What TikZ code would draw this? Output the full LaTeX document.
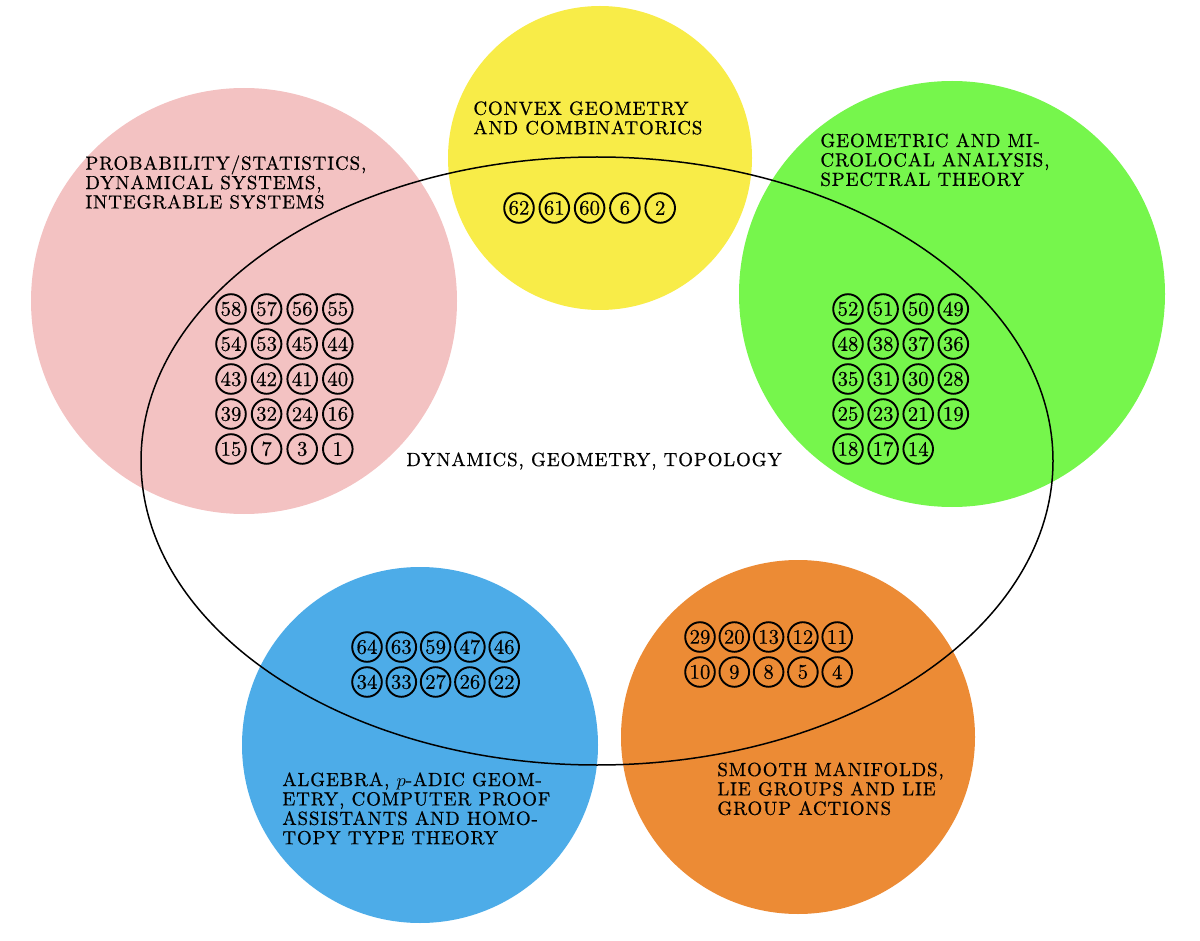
\documentclass[tikz,border=0pt]{standalone}
\usepackage{fontspec}
\usetikzlibrary{shapes.geometric}
\newfontfamily\lblfont{lmroman10-regular.otf}[LetterSpace=4.5,FakeBold=0.6]
\newfontfamily\numfont{lmroman10-regular.otf}[FakeBold=0.4]
\definecolor{cpink}{RGB}{243,194,194}
\definecolor{cyellow}{RGB}{248,236,72}
\definecolor{cgreen}{RGB}{118,246,76}
\definecolor{cblue}{RGB}{77,172,232}
\definecolor{corange}{RGB}{236,139,53}
\tikzset{
  numc/.style={circle,draw=black,line width=0.95pt,minimum size=14.8pt,inner sep=0pt,font=\numfont\fontsize{10.4}{11}\selectfont},
  lbl/.style={inner sep=0pt,anchor=north west,align=left,font=\lblfont\fontsize{9.5}{9.7}\selectfont},
  bigell/.style={draw=black,line width=0.75pt}
}
\newcommand{\numgrid}[5]{%
  \foreach \v [count=\i from 0] in {#5} {%
    \pgfmathsetmacro{\cc}{mod(\i,#3)}%
    \pgfmathsetmacro{\rr}{floor(\i/#3)}%
    \node[numc] (n\v) at ({#1+\cc*#4},{#2+\rr*35}) {\v};
  }%
}
\begin{document}
\begin{tikzpicture}[x=0.5pt,y=-0.5pt]
\useasboundingbox (0,0) rectangle (1200,941);
% coloured discs
\fill[cpink]   (244,301) circle[radius=106.5pt];
\fill[cyellow] (600,158) circle[radius=76pt];
\fill[cgreen]  (952,294) circle[radius=106.5pt];
\fill[cblue]   (420,745) circle[radius=89pt];
\fill[corange] (798,737) circle[radius=88.5pt];
% big ellipse
\node[bigell,ellipse,minimum width=456pt,minimum height=304pt,inner sep=0pt] (ell) at (597,461) {};
% labels
\node[lbl] (lprob) at (85,155) {PROBABILITY/STATISTICS,\\DYNAMICAL SYSTEMS,\\INTEGRABLE SYSTEMS};
\node[lbl] (lconv) at (473,101) {CONVEX GEOMETRY\\AND COMBINATORICS};
\node[lbl] (lgeom) at (820,133) {GEOMETRIC AND MI-\\CROLOCAL ANALYSIS,\\SPECTRAL THEORY};
\node[lbl] (lalg) at (282,772) {ALGEBRA, $p$-ADIC GEOM-\\ETRY, COMPUTER PROOF\\ASSISTANTS AND HOMO-\\TOPY TYPE THEORY};
\node[lbl] (lsmooth) at (717,762) {SMOOTH MANIFOLDS,\\LIE GROUPS AND LIE\\GROUP ACTIONS};
\node[lbl] (ldyn) at (406,452) {DYNAMICS, GEOMETRY, TOPOLOGY};
% number grids
\numgrid{231}{309}{4}{35.6}{58,57,56,55,54,53,45,44,43,42,41,40,39,32,24,16,15,7,3,1}
\numgrid{848}{309}{4}{35.1}{52,51,50,49,48,38,37,36,35,31,30,28,25,23,21,19,18,17,14}
\numgrid{519}{208}{5}{35.3}{62,61,60,6,2}
\numgrid{367}{647}{5}{34.3}{64,63,59,47,46,34,33,27,26,22}
\numgrid{700}{637}{5}{34.3}{29,20,13,12,11,10,9,8,5,4}
\end{tikzpicture}
\end{document}
